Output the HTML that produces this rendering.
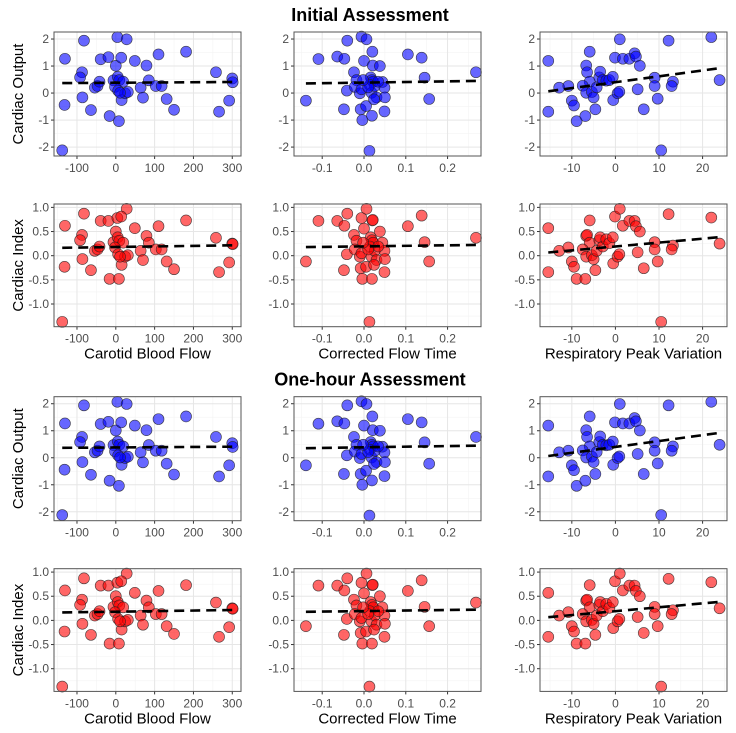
<!DOCTYPE html>
<html><head><meta charset="utf-8">
<style>
html,body{margin:0;padding:0;background:#fff;}
svg{display:block;font-family:"Liberation Sans",sans-serif;}
</style></head>
<body>
<svg id="chart" width="736" height="733" viewBox="0 0 736 733"></svg>
<script>
// ---- data ----
const cbfX = [-138,-131,-132,-82,-87,-92,-86,-64,-54,-47,-42,-39,-19,-16,-6,0,4,8,28,14,5,9,19,-2,6,15,24,31,11,49,64,70,79,85,103,110,118,131,150,181,258,266,292,300,301];
const cbfCO = [-2.12,1.27,-0.44,1.94,0.77,0.58,-0.16,-0.63,0.2,0.26,0.42,1.25,1.33,-0.85,0.47,1.01,2.07,-1.04,1.99,1.31,0.6,0.48,0.42,0.23,0.09,-0.26,-0.01,0.04,0.01,1.19,0.2,-0.17,1.02,0.47,0.26,1.43,0.26,-0.22,-0.62,1.53,0.77,-0.69,-0.28,0.54,0.4];
const cbfCI = [-1.37,0.62,-0.23,0.87,0.43,0.32,-0.07,-0.3,0.1,0.13,0.19,0.72,0.72,-0.48,0.28,0.5,0.78,-0.48,0.97,0.81,0.38,0.31,0.27,0.17,0.03,-0.19,-0.02,0.01,-0.02,0.57,0.1,-0.09,0.41,0.27,0.13,0.61,0.13,-0.12,-0.28,0.73,0.37,-0.34,-0.14,0.25,0.24];
const cftX = [-0.139,-0.109,-0.064,-0.047,-0.04,-0.041,-0.048,-0.024,-0.018,-0.022,-0.006,0.006,0.0,-0.01,-0.008,-0.004,-0.006,0.005,0.013,0.019,0.02,0.021,0.038,0.016,0.019,0.022,0.014,0.018,0.026,0.03,0.024,0.044,0.049,0.05,0.049,0.034,0.105,0.138,0.145,0.156,0.268,0.01,-0.002];
const cftCO = [-0.28,1.26,1.35,1.27,1.94,0.09,-0.6,0.77,0.48,0.23,2.09,1.99,1.19,-0.01,-0.6,-1.0,0.14,-0.48,-2.14,-0.84,1.53,1.02,1.0,0.58,0.48,0.42,0.3,0.01,0.26,-0.16,-0.23,0.41,0.2,-0.16,-0.68,0.42,1.43,1.31,0.57,-0.22,0.77,0.21,0.48];
const cftCI = [-0.12,0.72,0.72,0.62,0.87,0.03,-0.3,0.43,0.31,0.13,0.78,0.97,0.56,-0.02,-0.26,-0.48,0.05,-0.23,-1.37,-0.48,0.73,0.74,0.5,0.38,0.32,0.27,0.19,-0.02,0.1,-0.09,-0.19,0.27,0.1,-0.07,-0.34,0.19,0.61,0.83,0.28,-0.12,0.37,0.13,0.27];
const rpvX = [-15.4,-15.4,-12.9,-10.8,-10,-9.5,-8.9,-6.9,-6.7,-6.5,-5.9,-5.9,-7.5,-6.7,-5.4,-5.0,-4.6,-4.3,-3.7,-3.5,-2.9,-2.1,-1.4,-0.6,-0.5,0.5,0.9,-0.1,1.0,1.7,3.2,4.4,4.7,5.6,5.1,6.5,9.0,9.0,9.7,10.5,12.2,13.2,12.9,22,23.9];
const rpvCO = [1.19,-0.69,0.2,0.26,-0.28,-0.46,-1.04,-0.85,1.02,0.77,1.53,0.42,0.27,0.01,0.04,-0.16,-0.6,0.21,0.58,0.79,0.48,0.46,0.48,0.6,-0.26,-0.01,0.05,1.31,1.99,1.27,1.27,1.47,1.35,1.01,0.14,-0.6,0.57,0.26,-0.21,-2.12,1.94,0.42,0.26,2.07,0.48];
const rpvCI = [0.57,-0.34,0.1,0.17,-0.12,-0.23,-0.48,-0.48,0.41,0.43,0.73,0.27,0.13,-0.02,0.01,-0.07,-0.3,0.1,0.32,0.38,0.19,0.34,0.26,0.38,-0.16,-0.02,0.03,0.81,0.97,0.62,0.72,0.72,0.61,0.5,0.07,-0.26,0.28,0.13,-0.12,-1.37,0.86,0.21,0.13,0.79,0.25];
const xTicksCBF = [-100,0,100,200,300];
const xTicksCFT = [-0.1,0.0,0.1,0.2];
const xTicksRPV = [-10,0,10,20];
const yTicksCO = [-2,-1,0,1,2];
const yTicksCI = [-1.0,-0.5,0.0,0.5,1.0];
const xTitles = ["Carotid Blood Flow","Corrected Flow Time","Respiratory Peak Variation"];
const yTitles = ["Cardiac Output","Cardiac Index"];
const sectionTitles = ["Initial Assessment","One-hour Assessment"];

const NS="http://www.w3.org/2000/svg";
const svg=document.getElementById('chart');
function mk(tag,attrs,parent){const e=document.createElementNS(NS,tag);for(const k in attrs)e.setAttribute(k,attrs[k]);(parent||svg).appendChild(e);return e;}

const cols=[
 {x0:54,x1:241,dom:[-159.2,322.5],ticks:xTicksCBF,fmt:v=>String(v),minorStep:50,xs:cbfX,co:cbfCO,ci:cbfCI,key:'carotid'},
 {x0:294,x1:481,dom:[-0.1675,0.28],ticks:xTicksCFT,fmt:v=>v.toFixed(1),minorStep:0.05,xs:cftX,co:cftCO,ci:cftCI,key:'flow-time'},
 {x0:540,x1:727,dom:[-17.3,25.6],ticks:xTicksRPV,fmt:v=>String(v),minorStep:5,xs:rpvX,co:rpvCO,ci:rpvCI,key:'resp-variation'}
];
const rowsDef=[
 {y0:32,y1:156,dom:[-2.33,2.26],ticks:yTicksCO,fmt:v=>String(v),minorStep:0.5,kind:'co',fill:'rgba(0,0,255,0.6)',title:0},
 {y0:204,y1:326.7,dom:[-1.47,1.07],ticks:yTicksCI,fmt:v=>v.toFixed(1),minorStep:0.25,kind:'ci',fill:'rgba(255,0,0,0.6)',title:1}
];
const sectionOffsets=[0,364.7];

function linfit(xs,ys){const n=xs.length;let sx=0,sy=0,sxx=0,sxy=0;for(let i=0;i<n;i++){sx+=xs[i];sy+=ys[i];sxx+=xs[i]*xs[i];sxy+=xs[i]*ys[i];}const b=(n*sxy-sx*sy)/(n*sxx-sx*sx);return{a:(sy-b*sx)/n,b};}

sectionOffsets.forEach((off,si)=>{
  const t=mk('text',{x:370,y:21+off,'text-anchor':'middle','font-size':'18','font-weight':'bold',fill:'#000'});
  t.textContent=sectionTitles[si];
  
  
  rowsDef.forEach((r,ri)=>{
    const y0=r.y0+off,y1=r.y1+off;
    const Y=v=>y1-(v-r.dom[0])/(r.dom[1]-r.dom[0])*(y1-y0);
    const yt=mk('text',{transform:`translate(23,${(y0+y1)/2}) rotate(-90)`,'text-anchor':'middle','font-size':'15',fill:'#000'});
    yt.textContent=yTitles[r.title];
    
    
    cols.forEach((c,ci)=>{
      const X=v=>c.x0+(v-c.dom[0])/(c.dom[1]-c.dom[0])*(c.x1-c.x0);
      const g=mk('g',{});
      
      
      // minor grid
      for(let v=Math.ceil(c.dom[0]/c.minorStep)*c.minorStep; v<=c.dom[1]; v+=c.minorStep){
        mk('line',{x1:X(v),x2:X(v),y1:y0,y2:y1,stroke:'#f3f3f3','stroke-width':0.6},g);
      }
      for(let v=Math.ceil(r.dom[0]/r.minorStep)*r.minorStep; v<=r.dom[1]; v+=r.minorStep){
        mk('line',{x1:c.x0,x2:c.x1,y1:Y(v),y2:Y(v),stroke:'#f3f3f3','stroke-width':0.6},g);
      }
      c.ticks.forEach(v=>{
        mk('line',{x1:X(v),x2:X(v),y1:y0,y2:y1,stroke:'#e6e6e6','stroke-width':1},g);
        mk('line',{x1:X(v),x2:X(v),y1:y1,y2:y1+3,stroke:'#333','stroke-width':1},g);
        const tl=mk('text',{x:X(v),y:y1+16,'text-anchor':'middle','font-size':'12',fill:'#4d4d4d'},g);
        tl.textContent=c.fmt(v);
        
        
      });
      r.ticks.forEach(v=>{
        mk('line',{x1:c.x0,x2:c.x1,y1:Y(v),y2:Y(v),stroke:'#e6e6e6','stroke-width':1},g);
        mk('line',{x1:c.x0-3,x2:c.x0,y1:Y(v),y2:Y(v),stroke:'#333','stroke-width':1},g);
        const tl=mk('text',{x:c.x0-5,y:Y(v)+4,'text-anchor':'end','font-size':'12',fill:'#4d4d4d'},g);
        tl.textContent=r.fmt(v);
        
        
      });
      const ys=r.kind==='co'?c.co:c.ci;
      const n=Math.min(c.xs.length,ys.length);
      for(let i=0;i<n;i++){
        const p=mk('circle',{cx:X(c.xs[i]),cy:Y(ys[i]),r:5.5,fill:r.fill,stroke:'#222','stroke-width':0.6,'stroke-opacity':0.8},g);
        
        
      }
      const xs=c.xs.slice(0,n),yv=ys.slice(0,n);
      const f=linfit(xs,yv);
      const mn=Math.min(...xs),mx=Math.max(...xs);
      const ln=mk('line',{x1:X(mn),y1:Y(f.a+f.b*mn),x2:X(mx),y2:Y(f.a+f.b*mx),stroke:'#000','stroke-width':2.6,'stroke-dasharray':'10,6'},g);
      
      
      mk('rect',{x:c.x0,y:y0,width:c.x1-c.x0,height:y1-y0,fill:'none',stroke:'#555','stroke-width':1},g);
      if(ri===1){
        const xt=mk('text',{x:(c.x0+c.x1)/2,y:y1+32,'text-anchor':'middle','font-size':'15',fill:'#000'});
        xt.textContent=xTitles[ci];
        
        
      }
    });
  });
});
</script>
</body></html>
